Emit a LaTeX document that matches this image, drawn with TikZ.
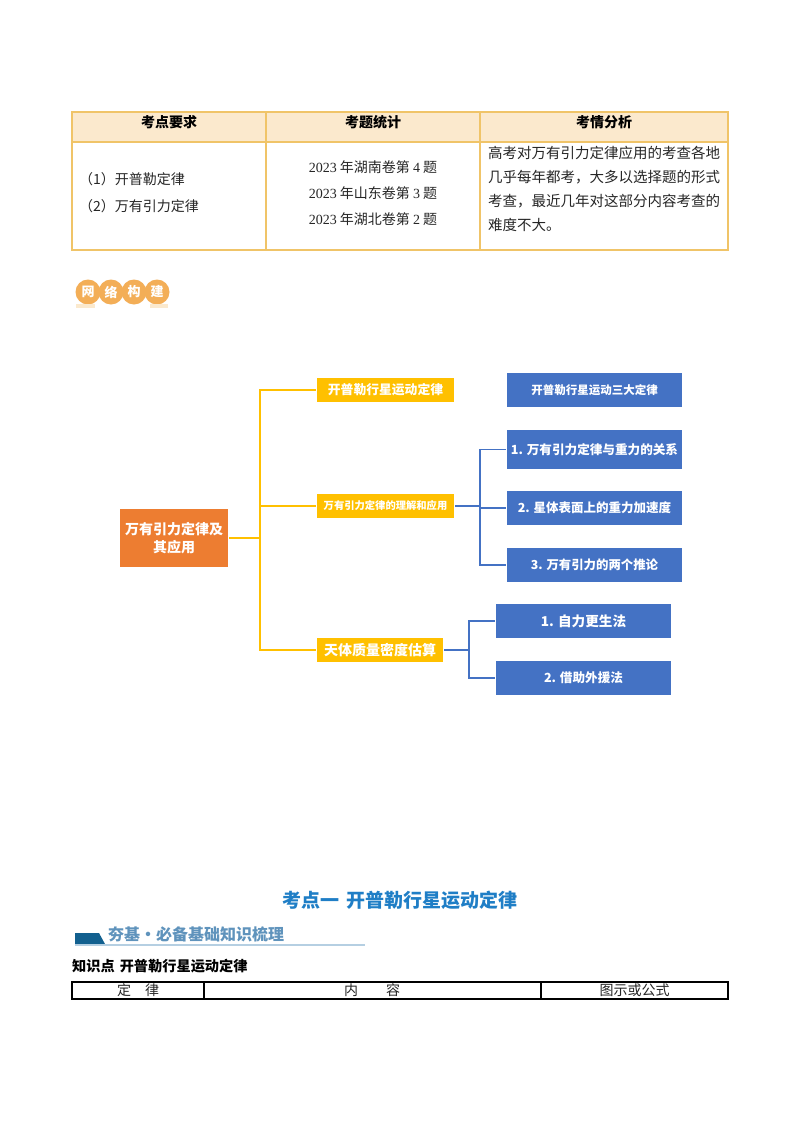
\documentclass[tikz,border=0pt]{standalone}
\usepackage{fontspec}
\setmainfont{Noto Sans CJK SC}
\newfontfamily\latinserif{Liberation Serif}
\usetikzlibrary{calc}
\definecolor{rootorange}{HTML}{ED7D31}
\definecolor{goldbox}{HTML}{FFC000}
\definecolor{bluebox}{HTML}{4472C4}
\definecolor{tableedge}{HTML}{F0C468}
\definecolor{tablehead}{HTML}{FBE9CD}
\definecolor{badgeorange}{HTML}{F3AE57}
\definecolor{headingblue}{HTML}{1F7EC6}
\definecolor{banddark}{HTML}{12608F}
\definecolor{bandtext}{HTML}{5F93BC}
\definecolor{bandline}{HTML}{B5CFE2}
\def\fsize#1{\fontsize{#1}{#1}\selectfont}
\tikzset{
	celltext/.style={inner sep=0pt, text=black!85, font=\fsize{14}},
	headtext/.style={inner sep=0pt, text=black, font=\fsize{14}\bfseries},
	goldnode/.style={fill=goldbox, text=white, inner sep=0pt, minimum height=24pt, font=\bfseries},
	bluenode/.style={fill=bluebox, text=white, inner sep=0pt, font=\bfseries},
	goldline/.style={draw=goldbox, line width=1.3pt},
	blueline/.style={draw=bluebox, line width=1.3pt},
	badge/.style={circle, fill=badgeorange, text=white, minimum size=25pt, inner sep=0pt, font=\fsize{13}\bfseries}
}
\begin{document}
\begin{tikzpicture}[x=1pt,y=-1pt]
			%%%%% START %%%%%
			\useasboundingbox[fill=white] (0,0) rectangle (800,1132);
			
			\draw[fill=tablehead, draw=none] (72,112) rectangle (728,142);
			\draw[tableedge, line width=1.4pt] (72,112) rectangle (728,250);
			\draw[tableedge, line width=1.4pt] (72,142) -- (728,142);
			\draw[tableedge, line width=1.4pt] (266,112) -- (266,250);
			\draw[tableedge, line width=1.4pt] (480,112) -- (480,250);
			
			\node[headtext] (headreq) at (169,122) {考点要求};
			\node[headtext] (headstat) at (373,122) {考题统计};
			\node[headtext] (headana) at (604,122) {考情分析};
			
			\node[celltext, anchor=west] (reqa) at (79,179) {（1）开普勒定律};
			\node[celltext, anchor=west] (reqb) at (79,206) {（2）万有引力定律};
			
			\node[celltext] (stata) at (373,167) {{\latinserif 2023} 年湖南卷第 {\latinserif 4} 题};
			\node[celltext] (statb) at (373,193) {{\latinserif 2023} 年山东卷第 {\latinserif 3} 题};
			\node[celltext] (statc) at (373,219) {{\latinserif 2023} 年湖北卷第 {\latinserif 2} 题};
			
			\node[celltext, anchor=west, font=\fsize{14.5}] (anaa) at (488,153) {高考对万有引力定律应用的考查各地};
			\node[celltext, anchor=west, font=\fsize{14.5}] (anab) at (488,177) {几乎每年都考，大多以选择题的形式};
			\node[celltext, anchor=west, font=\fsize{14.5}] (anac) at (488,201) {考查，最近几年对这部分内容考查的};
			\node[celltext, anchor=west, font=\fsize{14.5}] (anad) at (488,225) {难度不大。};
			
			\node[badge] (wang) at (88,292) {网};
			\node[badge] (luo) at (111,292) {络};
			\node[badge] (gou) at (134,292) {构};
			\node[badge] (jian) at (157,292) {建};
			\draw[fill=tablehead, draw=none] (76,304) rectangle (95,308);
			\draw[fill=tablehead, draw=none] (150,304) rectangle (168,308);
			
			\node[fill=rootorange, text=white, inner sep=0pt, minimum width=108pt, minimum height=58pt, align=center, font=\fsize{14}\bfseries] (root) at (174,538) {万有引力定律及\\[3.5pt]其应用};
			
			\node[goldnode, minimum width=137pt, font=\fsize{12.8}\bfseries] (kepler) at (385.5,390) {开普勒行星运动定律};
			\node[goldnode, minimum width=137pt, font=\fsize{10.3}\bfseries] (theory) at (385.5,506) {万有引力定律的理解和应用};
			\node[goldnode, minimum width=126pt, font=\fsize{14}\bfseries] (mass) at (380,650) {天体质量密度估算};
			
			\node[bluenode, minimum width=175pt, minimum height=34pt, font=\fsize{11.5}\bfseries] (laws) at (594.5,390) {开普勒行星运动三大定律};
			\node[bluenode, minimum width=175pt, minimum height=39pt, font=\fsize{12.6}\bfseries] (relation) at (594.5,449.5) {1. 万有引力定律与重力的关系};
			\node[bluenode, minimum width=175pt, minimum height=34pt, font=\fsize{12.5}\bfseries] (surface) at (594.5,508) {2. 星体表面上的重力加速度};
			\node[bluenode, minimum width=175pt, minimum height=34pt, font=\fsize{12.4}\bfseries] (corollary) at (594.5,565) {3. 万有引力的两个推论};
			\node[bluenode, minimum width=175pt, minimum height=34pt, font=\fsize{13.6}\bfseries] (selfhelp) at (583.5,621) {1. 自力更生法};
			\node[bluenode, minimum width=175pt, minimum height=34pt, font=\fsize{12.6}\bfseries] (external) at (583.5,678) {2. 借助外援法};
			
			\coordinate (goldjoin) at (260,538);
			\draw[goldline, shorten <=1pt] (root.east) -- (goldjoin);
			\draw[goldline, shorten >=1pt] (goldjoin) |- (kepler.west);
			\draw[goldline, shorten >=1pt] (goldjoin) |- (theory.west);
			\draw[goldline, shorten >=1pt] (goldjoin) |- (mass.west);
			
			\coordinate (theoryjoin) at (480,506);
			\draw[blueline, shorten <=1pt] (theory.east) -- (theoryjoin);
			\draw[blueline, shorten >=1pt] (theoryjoin) |- (relation.west);
			\draw[blueline, shorten >=1pt] (theoryjoin) |- (surface.west);
			\draw[blueline, shorten >=1pt] (theoryjoin) |- (corollary.west);
			
			\coordinate (massjoin) at (469,650);
			\draw[blueline, shorten <=1pt] (mass.east) -- (massjoin);
			\draw[blueline, shorten >=1pt] (massjoin) |- (selfhelp.west);
			\draw[blueline, shorten >=1pt] (massjoin) |- (external.west);
			
			\node[inner sep=0pt, text=headingblue, font=\fsize{19}\bfseries] (title) at (400,900) {考点一\hspace{7pt}开普勒行星运动定律};
			
			\draw[fill=banddark, draw=none] (75,933) -- (99,933) -- (105,944) -- (75,944) -- cycle;
			\draw[bandline, line width=1.2pt] (75,945) -- (365,945);
			\node[inner sep=0pt, anchor=west, text=bandtext, font=\fsize{16}\bfseries] (band) at (108,934) {夯基·必备基础知识梳理};
			
			\node[inner sep=0pt, anchor=west, text=black, font=\fsize{14.2}\bfseries] (point) at (72,966) {知识点\hspace{5pt}开普勒行星运动定律};
			
			\draw[black, line width=1.1pt] (72,982) rectangle (728,999);
			\draw[black, line width=1.1pt] (204,982) -- (204,999);
			\draw[black, line width=1.1pt] (541,982) -- (541,999);
			\node[celltext] (lawcol) at (138,990.5) {定\hspace{14pt}律};
			\node[celltext] (contentcol) at (372,990.5) {内\hspace{28pt}容};
			\node[celltext] (formulacol) at (634.5,990.5) {图示或公式};
			
			%%%%% END %%%%%
\end{tikzpicture}
\end{document}
